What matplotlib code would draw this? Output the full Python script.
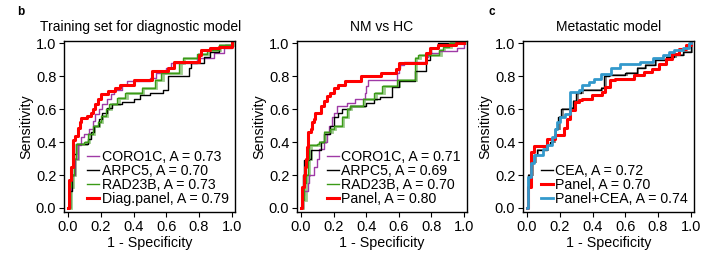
import matplotlib
matplotlib.use("Agg")
import matplotlib.pyplot as plt
from matplotlib.transforms import offset_copy

plt.rcParams['font.family'] = ['Liberation Sans', 'DejaVu Sans']

# ---------------- data ----------------
# Panel b: Training set for diagnostic model
coro1_fpr = [0, 0.005, 0.02, 0.04, 0.06, 0.08, 0.10, 0.13, 0.15, 0.165, 0.19, 0.21, 0.235, 0.26, 0.28, 0.33, 0.36, 0.50, 0.54, 0.60, 0.63, 0.79, 0.89, 0.95, 1.0]
coro1_tpr = [0, 0.11, 0.20, 0.30, 0.38, 0.43, 0.45, 0.48, 0.53, 0.57, 0.60, 0.63, 0.66, 0.69, 0.72, 0.745, 0.77, 0.79, 0.82, 0.85, 0.88, 0.91, 0.94, 0.97, 1.0]
arpc1_fpr = [0, 0.01, 0.025, 0.035, 0.05, 0.12, 0.14, 0.16, 0.19, 0.21, 0.24, 0.27, 0.33, 0.40, 0.44, 0.50, 0.58, 0.61, 0.74, 0.75, 0.83, 0.87, 0.92, 0.96, 1.0]
arpc1_tpr = [0, 0.10, 0.20, 0.33, 0.39, 0.42, 0.46, 0.50, 0.54, 0.58, 0.61, 0.63, 0.645, 0.665, 0.685, 0.70, 0.72, 0.80, 0.85, 0.88, 0.92, 0.95, 0.98, 0.99, 1.0]
rad1_fpr = [0, 0.01, 0.02, 0.035, 0.05, 0.10, 0.12, 0.15, 0.18, 0.20, 0.23, 0.25, 0.30, 0.35, 0.45, 0.53, 0.57, 0.68, 0.70, 0.79, 0.85, 0.92, 1.0]
rad1_tpr = [0, 0.13, 0.20, 0.30, 0.39, 0.40, 0.45, 0.50, 0.52, 0.56, 0.60, 0.63, 0.67, 0.70, 0.73, 0.777, 0.818, 0.88, 0.91, 0.935, 0.96, 0.99, 1.0]
diag_fpr = [0, 0.004, 0.015, 0.03, 0.04, 0.06, 0.07, 0.08, 0.116, 0.14, 0.15, 0.165, 0.18, 0.20, 0.245, 0.285, 0.316, 0.40, 0.51, 0.61, 0.65, 0.80, 0.81, 0.87, 0.92, 1.0]
diag_tpr = [0, 0.17, 0.25, 0.41, 0.44, 0.485, 0.525, 0.545, 0.56, 0.58, 0.60, 0.63, 0.66, 0.69, 0.71, 0.727, 0.747, 0.776, 0.834, 0.85, 0.89, 0.93, 0.96, 0.97, 0.98, 1.0]

# Panel: NM vs HC
coro2_fpr = [0, 0.01, 0.02, 0.04, 0.05, 0.08, 0.10, 0.11, 0.14, 0.16, 0.17, 0.19, 0.20, 0.22, 0.28, 0.33, 0.39, 0.40, 0.41, 0.59, 0.60, 0.61, 0.63, 0.77, 0.78, 0.85, 0.96, 1.0]
coro2_tpr = [0, 0.08, 0.10, 0.15, 0.20, 0.25, 0.30, 0.36, 0.40, 0.45, 0.50, 0.55, 0.58, 0.62, 0.64, 0.66, 0.70, 0.74, 0.78, 0.82, 0.85, 0.87, 0.89, 0.92, 0.94, 0.955, 0.97, 1.0]
arpc2_fpr = [0, 0.005, 0.01, 0.02, 0.05, 0.06, 0.12, 0.14, 0.18, 0.20, 0.23, 0.25, 0.30, 0.40, 0.45, 0.485, 0.556, 0.60, 0.70, 0.77, 0.79, 0.80, 0.84, 1.0]
arpc2_tpr = [0, 0.10, 0.20, 0.29, 0.30, 0.35, 0.40, 0.45, 0.50, 0.55, 0.58, 0.60, 0.62, 0.64, 0.66, 0.677, 0.733, 0.77, 0.83, 0.90, 0.94, 0.97, 1.0, 1.0]
rad2_fpr = [0, 0.005, 0.02, 0.03, 0.04, 0.05, 0.10, 0.11, 0.14, 0.18, 0.20, 0.25, 0.28, 0.30, 0.38, 0.45, 0.50, 0.59, 0.70, 0.72, 0.85, 0.87, 0.91, 1.0]
rad2_tpr = [0, 0.05, 0.15, 0.20, 0.30, 0.38, 0.39, 0.40, 0.46, 0.48, 0.50, 0.55, 0.60, 0.62, 0.66, 0.70, 0.74, 0.78, 0.91, 0.93, 0.96, 0.98, 1.0, 1.0]
panel2_fpr = [0, 0.006, 0.015, 0.025, 0.03, 0.036, 0.045, 0.06, 0.07, 0.08, 0.085, 0.125, 0.14, 0.16, 0.18, 0.20, 0.23, 0.27, 0.37, 0.49, 0.585, 0.60, 0.77, 0.79, 0.84, 0.95, 1.0]
panel2_tpr = [0, 0.13, 0.20, 0.25, 0.30, 0.37, 0.46, 0.48, 0.52, 0.54, 0.58, 0.62, 0.65, 0.68, 0.70, 0.73, 0.75, 0.77, 0.80, 0.82, 0.845, 0.88, 0.94, 0.97, 0.99, 1.0, 1.0]

# Panel c: Metastatic model
cea_fpr = [0, 0.004, 0.025, 0.045, 0.06, 0.12, 0.14, 0.16, 0.17, 0.19, 0.21, 0.26, 0.28, 0.30, 0.33, 0.45, 0.47, 0.50, 0.60, 0.67, 0.72, 0.78, 0.85, 0.90, 0.95, 1.0]
cea_tpr = [0, 0.20, 0.28, 0.32, 0.35, 0.38, 0.40, 0.42, 0.48, 0.55, 0.60, 0.61, 0.65, 0.70, 0.72, 0.73, 0.80, 0.81, 0.82, 0.85, 0.87, 0.90, 0.92, 0.93, 0.95, 1.0]
panel3_fpr = [0, 0.004, 0.025, 0.045, 0.12, 0.168, 0.223, 0.243, 0.264, 0.294, 0.315, 0.335, 0.397, 0.458, 0.478, 0.509, 0.54, 0.652, 0.714, 0.765, 0.806, 0.847, 0.888, 0.929, 0.97, 1.0]
panel3_tpr = [0, 0.13, 0.341, 0.376, 0.422, 0.442, 0.483, 0.543, 0.594, 0.645, 0.655, 0.665, 0.685, 0.705, 0.735, 0.776, 0.786, 0.806, 0.826, 0.846, 0.877, 0.907, 0.937, 0.968, 0.988, 1.0]
pcea_fpr = [0, 0.004, 0.025, 0.045, 0.10, 0.12, 0.15, 0.17, 0.18, 0.20, 0.233, 0.26, 0.315, 0.335, 0.38, 0.41, 0.45, 0.51, 0.57, 0.69, 0.77, 0.83, 0.87, 0.90, 0.95, 0.99, 1.0]
pcea_tpr = [0, 0.19, 0.275, 0.321, 0.36, 0.38, 0.43, 0.48, 0.52, 0.55, 0.574, 0.705, 0.715, 0.745, 0.766, 0.786, 0.817, 0.85, 0.877, 0.89, 0.91, 0.93, 0.95, 0.96, 0.975, 1.0, 1.0]

titles = ["Training set for diagnostic model", "NM vs HC", "Metastatic model"]
labels_b = ["CORO1C, A = 0.73", "ARPC5, A = 0.70", "RAD23B, A = 0.73", "Diag.panel, A = 0.79"]
labels_nm = ["CORO1C, A = 0.71", "ARPC5, A = 0.69", "RAD23B, A = 0.70", "Panel, A = 0.80"]
labels_c = ["CEA, A = 0.72", "Panel, A = 0.70", "Panel+CEA, A = 0.74"]
ticks = [0.0, 0.2, 0.4, 0.6, 0.8, 1.0]
tick_labels = ["0.0", "0.2", "0.4", "0.6", "0.8", "1.0"]

PURPLE = "#9f3aa6"
GREEN = "#3a9a16"
LIGHTGREEN = "#9ccc8c"
RED = "#ff0000"
BLUE = "#3399cc"
GRAY = "#8a8a8a"

fig = plt.figure(figsize=(7.03, 2.59), dpi=100)
H = 259.0
W = 703.0
def add_ax(l, r, t, b):
    return fig.add_axes([l / W, 1 - b / H, (r - l) / W, (b - t) / H])

ax1 = add_ax(64, 235, 41, 212)
ax2 = add_ax(297, 467, 41, 212)
ax3 = add_ax(523, 694, 41, 212)

def shadow(ax, x, y, color, lw):
    tr = offset_copy(ax.transData, fig=fig, x=1.5, y=0.0, units='dots')
    ax.step(x, y, where='post', color=color, lw=lw, transform=tr, solid_joinstyle='miter')

def style(ax, title, title_x=0.5):
    ax.set_xlim(-0.025, 1.02)
    ax.set_ylim(-0.025, 1.015)
    ax.set_xticks(ticks)
    ax.set_xticklabels(tick_labels)
    ax.set_yticks(ticks)
    ax.set_yticklabels(tick_labels)
    ax.tick_params(direction='out', length=3.5, width=0.8, labelsize=10.5, pad=2, colors='black')
    for s in ax.spines.values():
        s.set_linewidth(1.0)
    ax.set_title(title, fontsize=10, pad=7, x=title_x)
    ax.set_xlabel("1 - Specificity", fontsize=10.3, labelpad=2)
    ax.set_ylabel("Sensitivity", fontsize=10.3, labelpad=2)

def leg(ax, handles, labels):
    ax.legend(handles, labels, loc='lower right', frameon=False, fontsize=10.2,
              handlelength=0.85, handletextpad=0.15, labelspacing=0.0,
              borderaxespad=0.3, borderpad=0.15)

# Panel b
shadow(ax1, rad1_fpr, rad1_tpr, LIGHTGREEN, 2.0)
h1, = ax1.step(coro1_fpr, coro1_tpr, where='post', color=PURPLE, lw=1.0)
h2, = ax1.step(arpc1_fpr, arpc1_tpr, where='post', color='black', lw=1.0)
h3, = ax1.step(rad1_fpr, rad1_tpr, where='post', color=GREEN, lw=1.0)
h4, = ax1.step(diag_fpr, diag_tpr, where='post', color=RED, lw=2.2)
style(ax1, titles[0], title_x=0.45)
leg(ax1, [h1, h2, h3, h4], labels_b)

# Panel NM vs HC
shadow(ax2, rad2_fpr, rad2_tpr, LIGHTGREEN, 2.0)
g1, = ax2.step(coro2_fpr, coro2_tpr, where='post', color=PURPLE, lw=1.0)
g2, = ax2.step(arpc2_fpr, arpc2_tpr, where='post', color='black', lw=1.0)
g3, = ax2.step(rad2_fpr, rad2_tpr, where='post', color=GREEN, lw=1.0)
g4, = ax2.step(panel2_fpr, panel2_tpr, where='post', color=RED, lw=2.2)
style(ax2, titles[1])
leg(ax2, [g1, g2, g3, g4], labels_nm)

# Panel c
shadow(ax3, cea_fpr, cea_tpr, GRAY, 1.4)
k1, = ax3.step(cea_fpr, cea_tpr, where='post', color='black', lw=1.0)
k2, = ax3.step(panel3_fpr, panel3_tpr, where='post', color=RED, lw=2.2)
k3, = ax3.step(pcea_fpr, pcea_tpr, where='post', color=BLUE, lw=2.0)
style(ax3, titles[2])
leg(ax3, [k1, k2, k3], labels_c)

fig.text(17 / W, 1 - 12 / H, "b", fontsize=8.5, fontweight='bold', va='center', ha='left')
fig.text(489 / W, 1 - 12 / H, "c", fontsize=8.5, fontweight='bold', va='center', ha='left')

fig.savefig("out.png", dpi=100)
